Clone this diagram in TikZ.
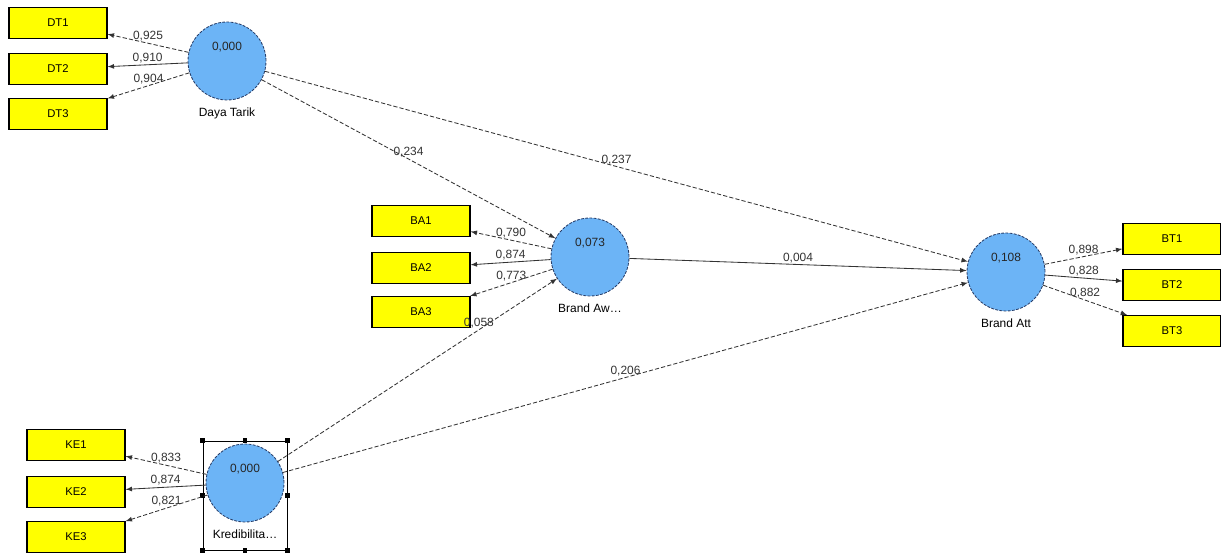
\documentclass[tikz,border=0pt]{standalone}
\usepackage{fontspec}
\setmainfont{Liberation Sans}
\usepackage{tikz}
\usetikzlibrary{arrows,shapes}
\definecolor{latentblue}{RGB}{108,180,246}
\definecolor{rimblue}{RGB}{40,62,105}
\definecolor{boxyellow}{RGB}{255,255,0}
\tikzstyle{latent vertex}=[circle, fill=latentblue, draw=rimblue, dash pattern=on 2pt off 1pt, line width=0.6pt, minimum size=1.95cm, inner sep=0pt]
\tikzstyle{indicator}=[rectangle, fill=boxyellow, draw=black, line width=0.8pt, minimum width=2.45cm, minimum height=0.77cm, inner sep=0pt, font=\fontsize{8}{9}\selectfont]
\tikzstyle{edge}=[draw, line width=0.6pt, -latex, black!80]
\tikzstyle{dashed edge}=[edge, dash pattern=on 3pt off 1.5pt]
\tikzstyle{weight}=[draw=none, inner sep=1pt, font=\fontsize{8.5}{10}\selectfont, text=black!80]
\tikzstyle{note}=[draw=none, inner sep=0pt, font=\fontsize{8.5}{10}\selectfont]
\tikzstyle{handle}=[fill=black, inner sep=0pt, minimum size=3pt]

\begin{document}
\begin{tikzpicture}[x=0.025cm, y=-0.025cm]
	\useasboundingbox (0,0) rectangle (1221,558);
	
	% Selection frame round the latent variable Kredibilitas
	\node[draw=black, line width=0.6pt, minimum width=2.1cm, minimum height=2.725cm, inner sep=0pt] (sel) at (245,495.5) {};
	\foreach \a/\i in {north west/1, north/2, north east/3, east/4, south east/5, south/6, south west/7, west/8}
	\node[handle] (h\i) at (sel.\a) {};
	
	% First we draw the latent variables
	\foreach \pos/\name in {
		{(227,61)/DT},
		{(590,257)/BA},
		{(1006,272)/BT},
		{(245,483)/KE}}
	\node[latent vertex] (\name) at \pos {};
	
	\foreach \name/\text in {
		{DT/0,000}, {BA/0,073}, {BT/0,108}, {KE/0,000}}
	\node[note, text=black!85] (\name v) at ([yshift=0.35cm]\name.center) {\text};
	
	\foreach \name/\text in {
		{DT/Daya Tarik}, {BA/Brand Aw\ldots}, {BT/Brand Att}, {KE/Kredibilita\ldots}}
	\node[note, anchor=north] (\name t) at ([yshift=-0.17cm]\name.south) {\text};
	
	% Indicators
	\foreach \pos/\label in {
		{(58,23)/DT1}, {(58,69)/DT2}, {(58,114)/DT3},
		{(421,221)/BA1}, {(421,268)/BA2}, {(421,312)/BA3},
		{(1172,239)/BT1}, {(1172,285)/BT2}, {(1172,331)/BT3},
		{(76,445)/KE1}, {(76,492)/KE2}, {(76,537)/KE3}}
	\node[indicator] (\label) at \pos {\label};
	
	% Outer loadings
	\foreach \source/\dest/\weight in {
		{DT/DT2/0,910}, {BA/BA2/0,874}, {BT/BT2/0,828}, {KE/KE2/0,874}}
	\path[edge] (\source) -- node[weight, above] {\weight} (\dest);
	
	\foreach \source/\dest/\weight in {
		{DT/DT1/0,925}, {DT/DT3/0,904}, {BA/BA1/0,790}, {BA/BA3/0,773},
		{BT/BT1/0,898}, {BT/BT3/0,882}, {KE/KE1/0,833}, {KE/KE3/0,821}}
	\path[dashed edge] (\source) -- node[weight, above] {\weight} (\dest);
	
	% Path coefficients
	\path[edge] (BA) -- node[weight, above] {0,004} (BT);
	\foreach \source/\dest/\weight/\p in {
		{DT/BA/0,234/0.5}, {DT/BT/0,237/0.5}, {KE/BA/0,058/0.72}, {KE/BT/0,206/0.5}}
	\path[dashed edge] (\source) -- node[weight, above, pos=\p] {\weight} (\dest);
\end{tikzpicture}
\end{document}
